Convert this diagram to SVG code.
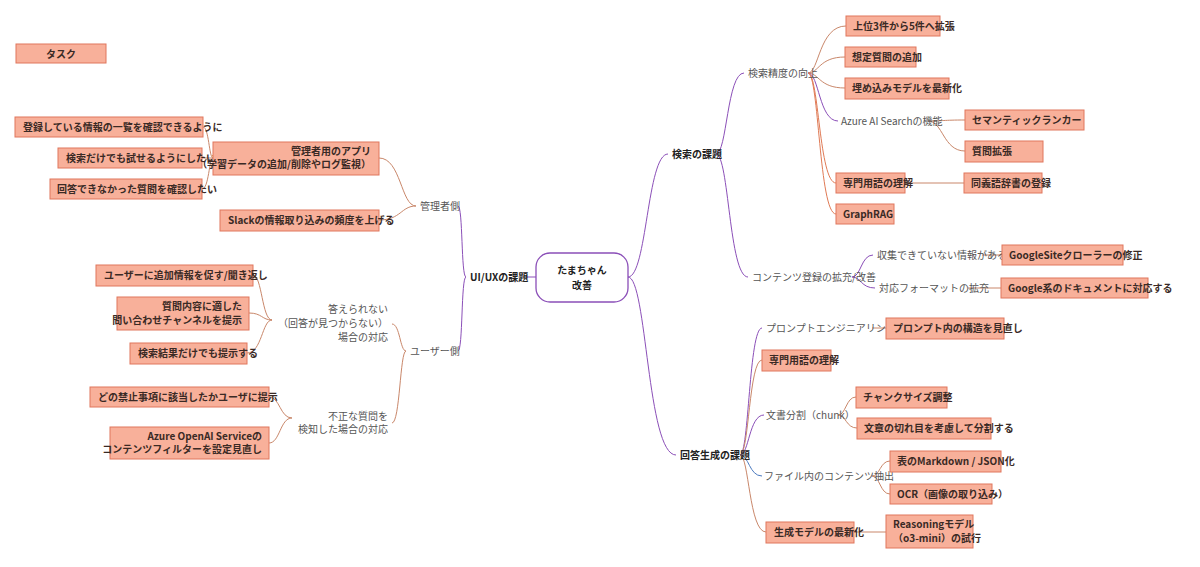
<svg xmlns="http://www.w3.org/2000/svg" width="1200" height="567" viewBox="0 0 1200 567">
<style>
text{font-family:"Noto Sans CJK JP","Noto Sans",sans-serif;font-size:10px;fill:#333}
.b rect{fill:#f8b09a;stroke:#e0765c;stroke-width:1}
.b text{font-weight:bold;fill:#3a2a25}
.t{fill:#555}
.h{font-weight:bold;fill:#222}
.r{text-anchor:end}
#conn path{fill:none;stroke-width:1}
.p{stroke:#8b4fb8}
.o{stroke:#c9876a}
.q{stroke:#e07a55}
.bl{stroke:#4d7bbf}
</style>
<rect width="1200" height="567" fill="#fff"/>
<g id="conn">
<path class="p" d="M536,277 L526,277"/>
<path class="p" d="M466,277 C461,277 463,206 458,206"/>
<path class="p" d="M466,277 C461,277 463,351 458,351"/>
<path class="p" d="M628,277 C647,277 647,154 668,154"/>
<path class="p" d="M628,277 C647,277 647,455 676,455"/>
<path class="p" d="M716,154 C727,154 727,73 744,73"/>
<path class="p" d="M716,154 C729,154 729,277 748,277"/>
<path class="p" d="M740,455 C749,455 749,328 762,328"/>
<path class="o" d="M740,455 C749,455 749,360 762,360"/>
<path class="p" d="M740,455 C749,455 749,415 764,415"/>
<path class="bl" d="M740,455 C749,455 749,476 762,476"/>
<path class="o" d="M740,455 C749,455 749,532 766,532"/>
<path class="o" d="M808,73 C819,73 819,26 846,26"/>
<path class="o" d="M808,73 C819,73 819,57 845,57"/>
<path class="o" d="M808,73 C819,73 819,88 845,88"/>
<path class="p" d="M808,73 C819,73 819,121 838,121"/>
<path class="q" d="M808,73 C819,73 819,183 836,183"/>
<path class="q" d="M808,73 C819,73 819,214 836,214"/>
<path class="o" d="M928,121 C943,121 943,120 965,120"/>
<path class="o" d="M928,121 C943,121 943,151 965,151"/>
<path class="o" d="M905,183 L964,183"/>
<path class="p" d="M852,277 C861,277 861,255 873,255"/>
<path class="p" d="M852,277 C861,277 861,288 875,288"/>
<path class="o" d="M982,255 L1002,255"/>
<path class="o" d="M968,288 L1001,288"/>
<path class="o" d="M872,328 L886,328"/>
<path class="o" d="M838,415 C846,415 846,397 856,397"/>
<path class="o" d="M838,415 C846,415 846,428 857,428"/>
<path class="o" d="M872,476 C880,476 880,461 890,461"/>
<path class="o" d="M872,476 C880,476 880,494 890,494"/>
<path class="o" d="M854,532 L886,532"/>
<path class="o" d="M416,206 C401,206 401,158 379,158"/>
<path class="o" d="M416,206 C401,206 401,220 379,220"/>
<path class="o" d="M213,158 C209,158 209,127 203,127"/>
<path class="o" d="M213,158 L202,158"/>
<path class="o" d="M213,158 C209,158 209,189 202,189"/>
<path class="o" d="M406,351 C400,351 400,324 392,324"/>
<path class="o" d="M406,351 C400,351 400,423 392,423"/>
<path class="o" d="M272,320 C262,320 262,275 253,275"/>
<path class="o" d="M272,320 C262,320 262,313 249,313"/>
<path class="o" d="M272,320 C262,320 262,353 247,353"/>
<path class="o" d="M292,418 C280,418 280,397 269,397"/>
<path class="o" d="M292,418 C280,418 280,443 269,443"/>
</g>
<g id="center"><rect x="536" y="253" width="92" height="49" rx="14" fill="#fff" stroke="#8b4fb8" stroke-width="1.3"/><text x="582" y="274" text-anchor="middle" class="h">たまちゃん</text><text x="582" y="289" text-anchor="middle" class="h">改善</text></g>
<g id="task" class="b"><rect x="16" y="44" width="90" height="19"/><text x="61" y="58" text-anchor="middle">タスク</text></g>
<g id="uiux"><text x="470" y="281" class="h">UI/UXの課題</text></g>
<g id="admin"><text x="420" y="210" class="t">管理者側</text></g>
<g id="user"><text x="410" y="355" class="t">ユーザー側</text></g>
<g id="a1" class="b"><rect x="15" y="117" width="188" height="20"/><text x="23" y="131">登録している情報の一覧を確認できるように</text></g>
<g id="a2" class="b"><rect x="58" y="148" width="144" height="20"/><text x="66" y="162">検索だけでも試せるようにしたい</text></g>
<g id="a3" class="b"><rect x="50" y="179" width="152" height="20"/><text x="57" y="193">回答できなかった質問を確認したい</text></g>
<g id="app" class="b"><rect x="213" y="142" width="166" height="33"/><text x="371" y="155" class="r">管理者用のアプリ</text><text x="371" y="168" class="r">（学習データの追加/削除やログ監視）</text></g>
<g id="slack" class="b"><rect x="220" y="210" width="159" height="21"/><text x="228" y="224">Slackの情報取り込みの頻度を上げる</text></g>
<g id="noans"><text x="388" y="313" class="t r">答えられない</text><text x="388" y="327" class="t r">（回答が見つからない）</text><text x="388" y="341" class="t r">場合の対応</text></g>
<g id="bad"><text x="388" y="420" class="t r">不正な質問を</text><text x="388" y="433" class="t r">検知した場合の対応</text></g>
<g id="u1" class="b"><rect x="96" y="265" width="157" height="21"/><text x="104" y="279">ユーザーに追加情報を促す/聞き返し</text></g>
<g id="u2" class="b"><rect x="117" y="297" width="132" height="33"/><text x="242" y="310" class="r">質問内容に適した</text><text x="242" y="324" class="r">問い合わせチャンネルを提示</text></g>
<g id="u3" class="b"><rect x="130" y="343" width="117" height="21"/><text x="138" y="357">検索結果だけでも提示する</text></g>
<g id="u4" class="b"><rect x="90" y="387" width="179" height="20"/><text x="98" y="401">どの禁止事項に該当したかユーザに提示</text></g>
<g id="u5" class="b"><rect x="110" y="427" width="159" height="32"/><text x="262" y="440" class="r">Azure OpenAI Serviceの</text><text x="262" y="453" class="r">コンテンツフィルターを設定見直し</text></g>
<g id="search"><text x="672" y="158" class="h">検索の課題</text></g>
<g id="acc"><text x="748" y="77" class="t">検索精度の向上</text></g>
<g id="s1" class="b"><rect x="846" y="16" width="94" height="20"/><text x="853" y="30">上位3件から5件へ拡張</text></g>
<g id="s2" class="b"><rect x="845" y="47" width="71" height="20"/><text x="852" y="61">想定質問の追加</text></g>
<g id="s3" class="b"><rect x="845" y="78" width="104" height="21"/><text x="852" y="92">埋め込みモデルを最新化</text></g>
<g id="azs"><text x="841" y="125" class="t">Azure AI Searchの機能</text></g>
<g id="s4" class="b"><rect x="965" y="110" width="119" height="20"/><text x="972" y="124">セマンティックランカー</text></g>
<g id="s5" class="b"><rect x="965" y="141" width="78" height="21"/><text x="972" y="155">質問拡張</text></g>
<g id="s6" class="b"><rect x="836" y="173" width="69" height="20"/><text x="843" y="187">専門用語の理解</text></g>
<g id="s7" class="b"><rect x="964" y="173" width="78" height="20"/><text x="971" y="187">同義語辞書の登録</text></g>
<g id="s8" class="b"><rect x="836" y="204" width="58" height="20"/><text x="843" y="218">GraphRAG</text></g>
<g id="cont"><text x="752" y="281" class="t">コンテンツ登録の拡充/改善</text></g>
<g id="c1"><text x="877" y="259" class="t">収集できていない情報がある</text></g>
<g id="c2"><text x="879" y="292" class="t">対応フォーマットの拡充</text></g>
<g id="c3" class="b"><rect x="1002" y="245" width="121" height="20"/><text x="1009" y="259">GoogleSiteクローラーの修正</text></g>
<g id="c4" class="b"><rect x="1001" y="278" width="147" height="20"/><text x="1008" y="292">Google系のドキュメントに対応する</text></g>
<g id="gen"><text x="680" y="459" class="h">回答生成の課題</text></g>
<g id="pe"><text x="766" y="332" class="t">プロンプトエンジニアリング</text></g>
<g id="g1" class="b"><rect x="886" y="318" width="118" height="21"/><text x="893" y="332">プロンプト内の構造を見直し</text></g>
<g id="g2" class="b"><rect x="762" y="350" width="69" height="21"/><text x="769" y="364">専門用語の理解</text></g>
<g id="chunk"><text x="766" y="419" class="t">文書分割（chunk）</text></g>
<g id="g3" class="b"><rect x="856" y="387" width="91" height="21"/><text x="863" y="401">チャンクサイズ調整</text></g>
<g id="g4" class="b"><rect x="857" y="418" width="134" height="21"/><text x="864" y="432">文章の切れ目を考慮して分割する</text></g>
<g id="ext"><text x="764" y="480" class="t">ファイル内のコンテンツ抽出</text></g>
<g id="g5" class="b"><rect x="890" y="451" width="111" height="21"/><text x="897" y="465">表のMarkdown / JSON化</text></g>
<g id="g6" class="b"><rect x="890" y="484" width="102" height="20"/><text x="897" y="498">OCR（画像の取り込み）</text></g>
<g id="g7" class="b"><rect x="766" y="522" width="88" height="21"/><text x="774" y="536">生成モデルの最新化</text></g>
<g id="g8" class="b"><rect x="886" y="515" width="87" height="33"/><text x="893" y="528">Reasoningモデル</text><text x="893" y="542">（o3-mini）の試行</text></g>
</svg>
